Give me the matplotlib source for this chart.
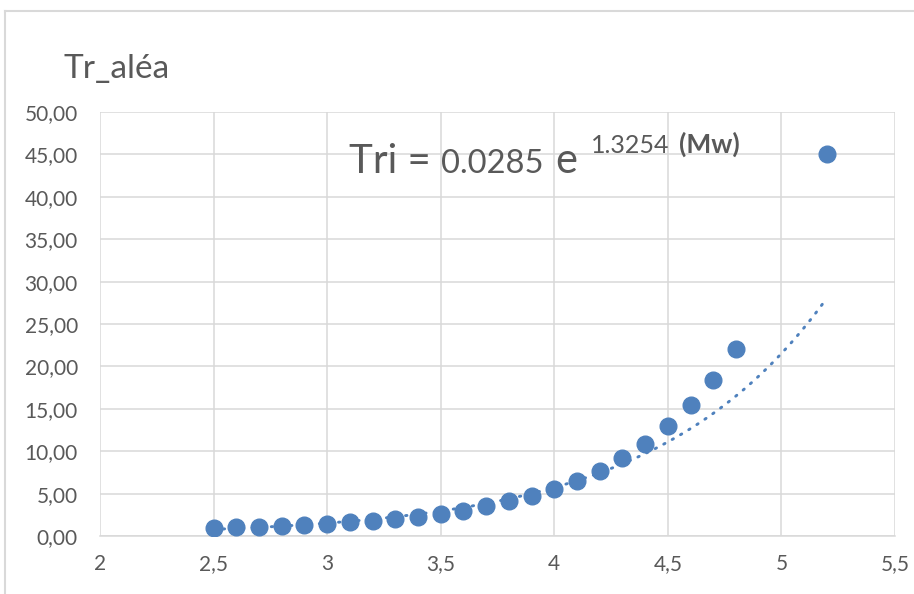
import matplotlib
import matplotlib.pyplot as plt
import numpy as np
from matplotlib.lines import Line2D
from matplotlib.ticker import FuncFormatter, MultipleLocator

matplotlib.use("Agg")

# Données
mw = [2.5, 2.6, 2.7, 2.8, 2.9, 3.0, 3.1, 3.2, 3.3, 3.4, 3.5, 3.6, 3.7,
      3.8, 3.9, 4.0, 4.1, 4.2, 4.3, 4.4, 4.5, 4.6, 4.7, 4.8, 5.2]
tr_alea = [1.0, 1.05, 1.1, 1.15, 1.3, 1.45, 1.6, 1.75, 2.0, 2.25, 2.55, 3.0,
           3.5, 4.1, 4.75, 5.6, 6.5, 7.7, 9.2, 10.9, 13.0, 15.5, 18.4, 22.0, 45.0]

# coefficients de la courbe de tendance affichée
coef_a = 0.0285
coef_b = 1.3254

W, H = 914, 594
blue = "#4f81bd"
grey_txt = "#595959"
grid_c = "#d9d9d9"

plt.rcParams["font.family"] = ["Lato", "DejaVu Sans"]

fig = plt.figure(figsize=(W / 100, H / 100), dpi=100)
ax = fig.add_axes([100 / W, 1 - 536 / H, 795 / W, 424 / H])

ax.plot(mw, tr_alea, "o", color=blue, markersize=12, zorder=3)

x_fit = np.linspace(mw[0], mw[-1], 200)
ax.plot(x_fit, coef_a * np.exp(coef_b * x_fit), color=blue, linewidth=2.1,
        linestyle=(0, (0.5, 2.8)), dash_capstyle="round", zorder=2)

ax.set_xlim(2, 5.5)
ax.set_ylim(0, 50)
ax.xaxis.set_major_locator(MultipleLocator(0.5))
ax.yaxis.set_major_locator(MultipleLocator(5))
ax.xaxis.set_major_formatter(FuncFormatter(lambda v, p: f"{v:g}".replace(".", ",")))
ax.yaxis.set_major_formatter(FuncFormatter(lambda v, p: f"{v:.2f}".replace(".", ",")))
ax.grid(True, color=grid_c, linewidth=1.1)
ax.set_axisbelow(True)
for name, spine in ax.spines.items():
    spine.set_visible(name == "bottom")
ax.spines["bottom"].set_color(grid_c)
ax.spines["bottom"].set_linewidth(1.1)
ax.tick_params(length=0, labelsize=15, labelcolor=grey_txt)
ax.tick_params(axis="y", pad=16)
ax.tick_params(axis="x", pad=13)

# titre et équation
fig.text(63 / W, 1 - 78 / H, "Tr_aléa", fontsize=24, color=grey_txt, va="baseline")
fig.text(349 / W, 1 - 173 / H, "Tri =", fontsize=29, color=grey_txt, va="baseline")
fig.text(441 / W, 1 - 173 / H, "0.0285", fontsize=23.5, color=grey_txt, va="baseline")
fig.text(555 / W, 1 - 173 / H, "e", fontsize=30, color=grey_txt, va="baseline")
fig.text(591 / W, 1 - 153 / H, "1.3254", fontsize=18, color=grey_txt, va="baseline")
fig.text(679 / W, 1 - 153 / H, "(Mw)", fontsize=19, color=grey_txt, va="baseline",
         fontweight="bold")

# cadre extérieur
fig.add_artist(Line2D([5 / W, 5 / W], [0, 1 - 11 / H], color=grid_c, linewidth=1.5))
fig.add_artist(Line2D([5 / W, 1], [1 - 11 / H, 1 - 11 / H], color=grid_c, linewidth=1.5))

fig.savefig("out.png", dpi=100, facecolor="white")
